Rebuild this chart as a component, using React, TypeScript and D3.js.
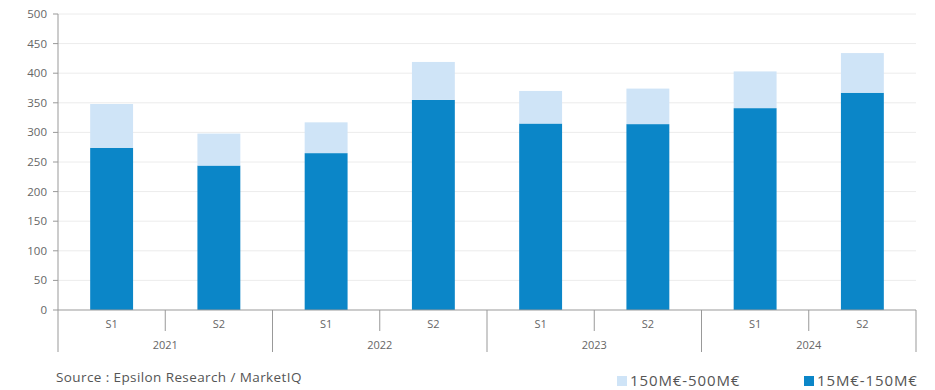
import React, { useEffect, useRef } from "react";
import * as d3 from "d3";

const years = ["2021", "2022", "2023", "2024"];
const halves = ["S1", "S2"];
const small = [274, 244, 265, 355, 315, 314, 341, 367]; // 15M€-150M€
const large = [74, 54, 52, 64, 55, 60, 62, 67]; // 150M€-500M€
const yTicks = [0, 50, 100, 150, 200, 250, 300, 350, 400, 450, 500];

const W = 935, H = 390;
const M = { left: 58, right: 19, top: 14, bottom: 80 };
const FONT = "'Open Sans', sans-serif";
const TXT = "#666";

export default function App() {
  const ref = useRef<SVGSVGElement>(null);
  useEffect(() => {
    const svg = d3.select(ref.current);
    svg.selectAll("*").remove();
    const cats = years.flatMap((y) => halves.map((h) => `${y}-${h}`));
    const x = d3.scaleBand().domain(cats).range([M.left, W - M.right]).paddingInner(0.6).paddingOuter(0.3);
    const xs = d3.scaleBand().domain(cats).range([M.left, W - M.right]);
    const y = d3.scaleLinear().domain([0, 500]).range([H - M.bottom, M.top]);
    const y0 = y(0);

    // grid
    svg.append("g").selectAll("line").data(yTicks.slice(1)).join("line")
      .attr("x1", M.left).attr("x2", W - M.right)
      .attr("y1", (d) => y(d)).attr("y2", (d) => y(d))
      .attr("stroke", "#ececec").attr("stroke-width", 1);

    // bars
    const g = svg.append("g");
    cats.forEach((c, i) => {
      g.append("rect").attr("x", x(c)!).attr("width", x.bandwidth())
        .attr("y", y(small[i])).attr("height", y0 - y(small[i])).attr("fill", "#0b86c8");
      g.append("rect").attr("x", x(c)!).attr("width", x.bandwidth())
        .attr("y", y(small[i] + large[i])).attr("height", y(small[i]) - y(small[i] + large[i]))
        .attr("fill", "#cfe4f7");
    });

    // y axis
    const ya = svg.append("g");
    ya.append("line").attr("x1", M.left).attr("x2", M.left).attr("y1", M.top).attr("y2", y0)
      .attr("stroke", "#999");
    ya.selectAll("line.t").data(yTicks).join("line").attr("class", "t")
      .attr("x1", M.left - 5).attr("x2", M.left).attr("y1", (d) => y(d)).attr("y2", (d) => y(d))
      .attr("stroke", "#999");
    ya.selectAll("text").data(yTicks).join("text")
      .attr("x", M.left - 11).attr("y", (d) => y(d)).attr("dy", "0.35em")
      .attr("text-anchor", "end").attr("font-family", FONT).attr("font-size", 11.5)
      .attr("fill", TXT).text((d) => d);

    // x axis
    const xa = svg.append("g");
    xa.append("line").attr("x1", M.left).attr("x2", W - M.right).attr("y1", y0).attr("y2", y0)
      .attr("stroke", "#999");
    cats.forEach((c, i) => {
      const left = xs(c)!;
      const long = i % 2 === 0;
      xa.append("line").attr("x1", left).attr("x2", left).attr("y1", y0)
        .attr("y2", long ? y0 + 42 : y0 + 21).attr("stroke", "#999");
      xa.append("text").attr("x", left + xs.bandwidth() / 2).attr("y", y0 + 18)
        .attr("text-anchor", "middle").attr("font-family", FONT).attr("font-size", 11)
        .attr("fill", TXT).text(halves[i % 2]);
    });
    xa.append("line").attr("x1", W - M.right).attr("x2", W - M.right).attr("y1", y0)
      .attr("y2", y0 + 42).attr("stroke", "#999");
    years.forEach((yr) => {
      const left = xs(`${yr}-S1`)!;
      xa.append("text").attr("x", left + xs.bandwidth()).attr("y", y0 + 39)
        .attr("text-anchor", "middle").attr("font-family", FONT).attr("font-size", 11)
        .attr("fill", TXT).text(yr);
    });

    // source
    svg.append("text").attr("x", 56).attr("y", 382).attr("font-family", FONT)
      .attr("font-size", 13.5).attr("letter-spacing", 0.4).attr("fill", "#555")
      .text("Source : Epsilon Research / MarketIQ");

    // legend
    const leg = [
      { label: "150M€-500M€", color: "#cfe4f7", x: 617 },
      { label: "15M€-150M€", color: "#0b86c8", x: 804 },
    ];
    leg.forEach((l) => {
      svg.append("rect").attr("x", l.x).attr("y", 376).attr("width", 10).attr("height", 10).attr("fill", l.color);
      svg.append("text").attr("x", l.x + 13).attr("y", 385.5).attr("font-family", FONT)
        .attr("font-size", 15).attr("letter-spacing", 0.9).attr("fill", "#555").text(l.label);
    });
  }, []);
  return (
    <svg ref={ref} width={W} height={H} style={{ position: "absolute", left: 0, top: 0, background: "#fff" }} />
  );
}
